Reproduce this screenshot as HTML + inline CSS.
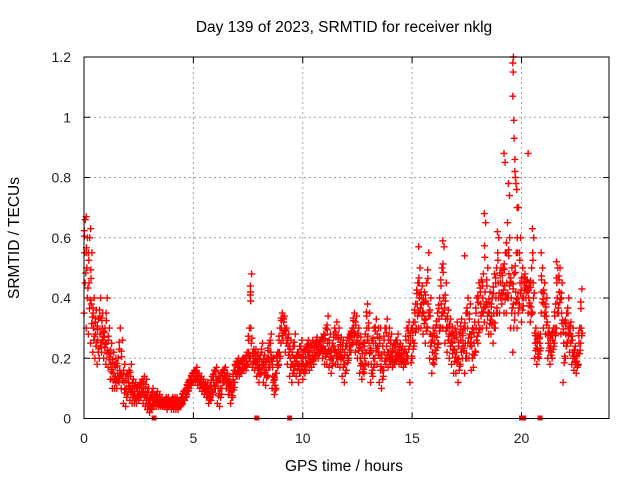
<!DOCTYPE html>
<html><head><meta charset="utf-8"><style>
html,body{margin:0;padding:0;background:#fff}
svg{display:block;font-family:"Liberation Sans",sans-serif}
</style></head><body>
<svg id="chart" width="640" height="480" viewBox="0 0 640 480">
<text x="344" y="32" font-size="15.5" text-anchor="middle">Day 139 of 2023, SRMTID for receiver nklg</text>
<text x="344" y="471" font-size="15.5" text-anchor="middle">GPS time / hours</text>
<text x="19" y="238" font-size="15.5" text-anchor="middle" transform="rotate(-90 19 238)">SRMTID / TECUs</text>
<g id="grid"></g>
<g id="ticks"></g>
<g id="marks"></g>
<rect x="84" y="57" width="525" height="361.5" fill="none" stroke="#000" stroke-width="1"/>
</svg>
<script>
const xTicks=[0,5,10,15,20];
const yTicks=[0,0.2,0.4,0.6,0.8,1,1.2];
const yTickLabels=["0","0.2","0.4","0.6","0.8","1","1.2"];
const startHour=0, stepHour=0.1;
const seriesLow=[.35,.3,.28,.25,.22,.2,.18,.2,.22,.2,.18,.17,.13,.1,.1,.1,.12,.1,.05,.04,.08,.06,.05,.05,.05,.06,.07,.05,.04,.03,.02,.03,.04,.04,.04,.04,.04,.04,.03,.04,.03,.03,.03,.03,.04,.05,.06,.08,.1,.11,.12,.12,.11,.1,.09,.08,.07,.05,.06,.08,.1,.05,.04,.1,.12,.1,.08,.05,.07,.12,.14,.14,.15,.16,.16,.18,.2,.17,.16,.14,.12,.15,.12,.11,.14,.17,.1,.08,.15,.18,.25,.26,.22,.18,.14,.12,.15,.14,.12,.15,.13,.15,.18,.16,.17,.18,.2,.2,.22,.2,.18,.18,.17,.15,.2,.18,.18,.17,.14,.12,.16,.2,.22,.25,.22,.2,.15,.13,.15,.22,.18,.12,.14,.2,.18,.12,.1,.16,.18,.17,.18,.17,.18,.19,.18,.18,.17,.18,.2,.12,.2,.25,.3,.3,.3,.28,.25,.3,.2,.15,.18,.2,.25,.3,.3,.25,.22,.2,.18,.15,.15,.12,.18,.2,.15,.2,.2,.16,.17,.22,.25,.3,.3,.32,.3,.28,.28,.25,.3,.35,.35,.38,.35,.35,.4,.3,.22,.35,.3,.38,.32,.4,.4,.35,.32,.35,.2,.18,.2,.35,.3,.28,.2,.18,.2,.25,.3,.35,.28,.12,.2,.25,.22,.18,.16,.15,.18,.25];
const seriesMid=[.55,.5,.45,.38,.3,.28,.26,.28,.3,.27,.25,.22,.18,.15,.14,.15,.16,.15,.12,.1,.12,.1,.09,.08,.09,.09,.1,.09,.08,.06,.05,.06,.06,.06,.05,.05,.05,.05,.05,.05,.05,.05,.05,.05,.05,.07,.08,.1,.12,.13,.14,.14,.13,.12,.11,.1,.09,.08,.1,.12,.14,.1,.1,.14,.15,.13,.11,.09,.12,.16,.17,.17,.18,.18,.19,.22,.3,.2,.2,.18,.17,.19,.17,.16,.2,.22,.14,.11,.19,.22,.3,.32,.28,.24,.2,.18,.2,.19,.18,.2,.18,.2,.22,.2,.21,.22,.24,.23,.24,.24,.23,.25,.22,.2,.24,.22,.23,.22,.2,.18,.21,.24,.27,.3,.28,.25,.2,.18,.2,.3,.25,.18,.2,.25,.24,.2,.16,.22,.24,.22,.22,.2,.22,.22,.21,.2,.2,.22,.26,.25,.26,.32,.38,.4,.38,.35,.33,.38,.28,.22,.25,.27,.33,.38,.4,.33,.3,.28,.25,.23,.22,.2,.26,.25,.25,.3,.28,.24,.25,.3,.32,.38,.4,.42,.38,.35,.34,.35,.4,.45,.45,.45,.44,.45,.48,.4,.38,.42,.4,.45,.4,.45,.44,.4,.37,.45,.25,.23,.25,.42,.38,.34,.25,.24,.26,.3,.4,.42,.35,.25,.28,.3,.28,.22,.2,.19,.25,.3];
const seriesHigh=[.66,.6,.6,.55,.4,.36,.33,.4,.35,.3,.4,.3,.25,.22,.2,.2,.3,.26,.18,.15,.16,.18,.13,.12,.11,.12,.13,.14,.13,.1,.08,.1,.08,.09,.08,.07,.06,.07,.07,.06,.07,.07,.07,.06,.07,.09,.1,.12,.13,.15,.16,.17,.15,.14,.13,.12,.12,.11,.14,.16,.17,.14,.15,.16,.17,.15,.13,.12,.16,.19,.2,.19,.2,.2,.22,.3,.48,.23,.23,.22,.21,.25,.21,.2,.25,.28,.2,.15,.22,.3,.35,.34,.3,.28,.26,.24,.28,.22,.24,.26,.23,.24,.26,.25,.26,.25,.27,.26,.27,.28,.3,.34,.28,.25,.3,.32,.3,.27,.26,.24,.27,.28,.3,.35,.34,.3,.27,.25,.28,.38,.35,.26,.3,.33,.3,.3,.24,.3,.33,.3,.28,.25,.26,.28,.25,.24,.23,.3,.32,.3,.32,.38,.45,.5,.44,.42,.45,.55,.4,.3,.3,.35,.4,.5,.57,.45,.36,.33,.3,.3,.32,.28,.33,.3,.35,.4,.38,.3,.32,.4,.45,.46,.48,.65,.5,.42,.4,.48,.5,.6,.5,.5,.55,.65,.6,.5,.48,.55,.7,.6,.5,.48,.46,.45,.5,.6,.3,.28,.28,.5,.45,.4,.3,.28,.3,.38,.5,.5,.45,.32,.35,.4,.32,.3,.24,.22,.3,.43];
const extraHours=[19.2,19.25,19.4,19.45,19.6,19.62,19.63,19.6,19.65,19.66,19.7,19.7,19.72,19.75,19.78,19.8,18.3,18.9,20.3,20.5,20.9,21.6,15.3,16.4,17.4,0.1,0.3,7.6,7.6];
const extraValues=[.88,.85,.78,.74,1.18,1.15,1.2,1.07,.99,.93,.86,.82,.8,.78,.76,.7,.68,.62,.88,.63,.55,.52,.57,.59,.54,.67,.63,.44,.41];
const gapHours=[3.2,7.9,9.4,20.0,20.1,20.85];

const X0=84,X1=609,Y0=418.5,Y1=57,XMAX=24,YMAX=1.2;
const xs=h=>X0+(X1-X0)*h/XMAX;
const ys=v=>Y0-(Y0-Y1)*v/YMAX;
const NS="http://www.w3.org/2000/svg";
function mk(tag,parent,attrs){const e=document.createElementNS(NS,tag);for(const k in attrs)e.setAttribute(k,attrs[k]);parent.appendChild(e);return e;}
const grid=document.getElementById('grid'),ticks=document.getElementById('ticks'),marks=document.getElementById('marks');
xTicks.forEach(t=>{const x=xs(t);
 if(t>0){const g=mk('line',grid,{x1:x,x2:x,y1:Y1,y2:Y0,stroke:'#a0a0a0','stroke-dasharray':'2,3'});
 
 }
 mk('line',ticks,{x1:x,x2:x,y1:Y0,y2:Y0-6,stroke:'#000'});
 mk('line',ticks,{x1:x,x2:x,y1:Y1,y2:Y1+6,stroke:'#000'});
 const l=mk('text',ticks,{x:x,y:443,'font-size':14,'text-anchor':'middle',fill:'#222'});l.textContent=t;
 
 
});
yTicks.forEach((t,i)=>{const y=ys(t);
 if(t>0&&t<YMAX){const g=mk('line',grid,{x1:X0,x2:X1,y1:y,y2:y,stroke:'#a0a0a0','stroke-dasharray':'2,3'});
 
 }
 mk('line',ticks,{x1:X0,x2:X0+6,y1:y,y2:y,stroke:'#000'});
 mk('line',ticks,{x1:X1,x2:X1-6,y1:y,y2:y,stroke:'#000'});
 const l=mk('text',ticks,{x:71,y:y+5,'font-size':14,'text-anchor':'end',fill:'#222'});l.textContent=yTickLabels[i];
 
 
});
let d='',db='';
function cross(h,v){const x=xs(h),y=ys(v);d+=`M${(x-3.5).toFixed(1)} ${y.toFixed(1)}h7M${x.toFixed(1)} ${(y-3.5).toFixed(1)}v7`;}
function crossB(h,v){const x=xs(h),y=ys(v);db+=`M${(x-3).toFixed(1)} ${y.toFixed(1)}h6M${x.toFixed(1)} ${(y-3).toFixed(1)}v6`;}
seriesMid.forEach((v,i)=>{const h=startHour+i*stepHour;
 crossB(h+0.03,v);
 cross(h,seriesLow[i]);cross(h+0.03,v);cross(h+0.06,seriesHigh[i]);
 cross(h+0.05,(seriesLow[i]+v)/2);cross(h+0.02,(v+seriesHigh[i])/2);
 cross(h+0.08,(seriesLow[i]+2*v)/3);cross(h+0.01,(2*seriesHigh[i]+v)/3);
});
extraHours.forEach((h,i)=>cross(h,extraValues[i]));
const pb=mk('path',marks,{d:db,stroke:'#333',fill:'none','stroke-width':1});


const p=mk('path',marks,{d:d,stroke:'#ff0000',fill:'none','stroke-width':1.4});


gapHours.forEach(h=>{const r=mk('rect',marks,{x:xs(h)-2.5,y:Y0-3,width:5,height:5,fill:'#ff0000'});
 
 });
</script>
</body></html>
